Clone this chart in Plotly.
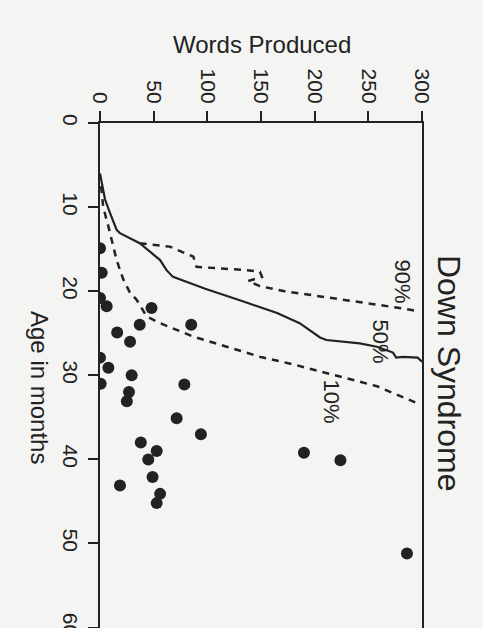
import plotly.graph_objects as go

# ---- data (words produced vs age in months) ----
p50_age   = [6.0, 7.6, 9.1, 10.7, 12.7, 13.1, 14.3, 16.3, 17.5, 18.3, 19.7, 21.2, 22.6, 23.8, 25.5, 25.8, 26.2, 26.6, 27.3, 27.9, 27.8, 27.9, 28.4]
p50_words = [0, 2.5, 4.7, 9.3, 15.5, 18.6, 37, 56, 62, 68, 98, 133, 165, 186, 205, 211, 242, 258, 273, 276, 282, 296, 300]

p90_age   = [14.3, 14.7, 15.9, 17.1, 17.3, 17.5, 17.7, 18.3, 18.8, 19.4, 20.0, 20.5, 21.0, 21.6, 22.2, 22.4]
p90_words = [37, 65, 87, 90, 112, 137, 149, 151, 138, 149, 172, 200, 227, 258, 289, 297]

p10_age   = [7.5, 10.0, 12.3, 13.9, 16.3, 18.6, 20.2, 21.0, 23.0, 23.8, 25.4, 26.6, 27.8, 28.7, 29.7, 30.5, 31.3, 33.3]
p10_words = [1, 3, 7.8, 10.9, 15.5, 21.7, 28, 34, 43.5, 56, 87, 118, 149, 180, 211, 233, 258, 295]

child_age   = [14.9, 17.8, 20.8, 21.8, 22.0, 24.0, 24.0, 24.9, 26.0, 27.9, 29.1, 30.0, 31.0, 31.1,
               32.0, 33.1, 35.1, 37.0, 38.0, 39.0, 40.0, 42.1, 43.1, 44.1, 45.2, 39.2, 40.1, 51.2]
child_words = [0, 1.6, 0, 6.2, 48, 37, 85, 16, 28, 0, 7.8, 29.5, 0.6, 78.6,
               27, 25, 71.4, 94, 38, 52.8, 45, 49, 18.6, 56, 52.8, 190, 224, 286]

word_ticks = [0, 50, 100, 150, 200, 250, 300]
age_ticks = [0, 10, 20, 30, 40, 50, 60]

curve_labels = ["90%", "50%", "10%"]
label_words = [282, 261, 216]
label_age = [18.8, 26.0, 33.1]

INK = "#222222"
BG = "#f4f4f2"
FONT = "Liberation Sans, Arial, sans-serif"

fig = go.Figure()
fig.add_trace(go.Scatter(x=p50_words, y=p50_age, mode="lines",
                         line=dict(color=INK, width=2.2), hoverinfo="skip"))
fig.add_trace(go.Scatter(x=p90_words, y=p90_age, mode="lines",
                         line=dict(color=INK, width=2.5, dash="7px,6px"), hoverinfo="skip"))
fig.add_trace(go.Scatter(x=p10_words, y=p10_age, mode="lines",
                         line=dict(color=INK, width=2.5, dash="7px,6px"), hoverinfo="skip"))
fig.add_trace(go.Scatter(x=child_words, y=child_age, mode="markers",
                         marker=dict(color=INK, size=12), hoverinfo="skip"))

for t, w, a in zip(curve_labels, label_words, label_age):
    fig.add_annotation(x=w, y=a, xref="x", yref="y", text=t, textangle=90,
                       xanchor="center", yanchor="middle",
                       showarrow=False, font=dict(size=22, color=INK, family=FONT))

fig.add_annotation(x=0.503, y=1.155, xref="paper", yref="paper", text="Words Produced",
                   xanchor="center", yanchor="middle",
                   showarrow=False, font=dict(size=24, color=INK, family=FONT))
fig.add_annotation(x=-0.186, y=0.477, xref="paper", yref="paper", text="Age in months",
                   xanchor="center", yanchor="middle",
                   textangle=90, showarrow=False, font=dict(size=24, color=INK, family=FONT))
fig.add_annotation(x=1.084, y=0.505, xref="paper", yref="paper", text="Down Syndrome",
                   xanchor="center", yanchor="middle",
                   textangle=90, showarrow=False, font=dict(size=32, color=INK, family=FONT))

fig.update_layout(
    width=483, height=628,
    margin=dict(l=100, r=61, t=123, b=0, autoexpand=False),
    paper_bgcolor=BG, plot_bgcolor=BG,
    showlegend=False,
    font=dict(family=FONT, color=INK),
    xaxis=dict(side="top", range=[0, 300], tickvals=word_ticks,
               ticktext=[str(v) for v in word_ticks], tickangle=90,
               ticks="outside", ticklen=10, tickwidth=2, tickcolor=INK,
               showline=True, linewidth=2, linecolor=INK, mirror=False,
               showgrid=False, zeroline=False, automargin=False,
               tickfont=dict(size=21, color=INK, family=FONT)),
    yaxis=dict(range=[60.05, 0], tickvals=age_ticks,
               ticktext=[str(v) for v in age_ticks], tickangle=90,
               ticks="outside", ticklen=10, tickwidth=2, tickcolor=INK,
               ticklabeloverflow="allow", automargin=False,
               showline=True, linewidth=2, linecolor=INK, mirror=True,
               showgrid=False, zeroline=False,
               tickfont=dict(size=21, color=INK, family=FONT)),
)

fig.write_html("out.html")
